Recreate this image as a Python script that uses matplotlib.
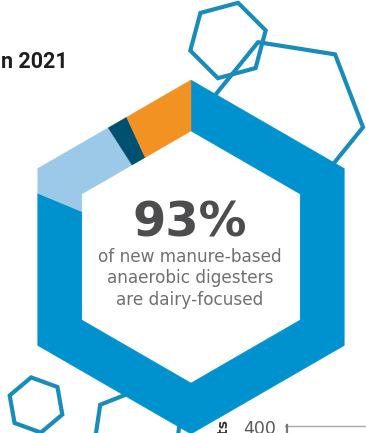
import numpy as np
import matplotlib
matplotlib.use("Agg")
import matplotlib.pyplot as plt
from matplotlib.patches import Polygon

# share of new manure-based digesters (perimeter of the hexagon ring)
categories = ["Dairy", "Dairy co-digestion", "Dairy + other", "Other livestock"]
shares = [81, 10, 2, 7]
colors = ["#0092cf", "#9dc9e9", "#00506f", "#f29222"]

headline = "93%"
caption = ["of new manure-based", "anaerobic digesters", "are dairy-focused"]
title = "n 2021"
axis_label = "Projects"
tick_label = "400"

W, H = 366, 433
fig = plt.figure(figsize=(W / 100, H / 100), dpi=100)
ax = fig.add_axes([0, 0, 1, 1])
ax.set_xlim(0, W)
ax.set_ylim(H, 0)
ax.axis("off")

# ring geometry (pixel space, y down)
cx, cy = 191, 257
r_out, r_in = 177, 126


def hex_vertices(x, y, r, a0):
    a = np.deg2rad(a0 - 60 * np.arange(7))
    return x + r * np.cos(a), y - r * np.sin(a)


def hex_point(f, r):
    # point at fraction f of the perimeter, clockwise from the top vertex
    vx, vy = hex_vertices(cx, cy, r, 90)
    s = f * 6
    i = min(int(s), 5)
    t = s - i
    return vx[i] + t * (vx[i + 1] - vx[i]), vy[i] + t * (vy[i + 1] - vy[i])


def ring_segment(f0, f1):
    fs = [f0] + [k / 6 for k in range(1, 6) if f0 < k / 6 < f1] + [f1]
    outer = [hex_point(f, r_out) for f in fs]
    inner = [hex_point(f, r_in) for f in fs[::-1]]
    return outer + inner


# decorative outline hexagons behind the ring
deco = [(228, 40.5, 39, 75), (286, 115, 78, 111), (36, 405, 28, 40), (137, 434, 47, 21.5)]
for x, y, r, a0 in deco:
    vx, vy = hex_vertices(x, y, r, a0)
    ax.add_patch(Polygon(np.column_stack([vx, vy]), closed=True, fill=False,
                         ec="#1a8cba", lw=3, joinstyle="miter", zorder=1))

# white centre hides the outlines
vx, vy = hex_vertices(cx, cy, r_in, 90)
ax.add_patch(Polygon(np.column_stack([vx, vy]), closed=True, fc="white",
                     ec="white", lw=1, zorder=2))

total = sum(shares)
cum = np.concatenate([[0], np.cumsum(shares)]) / total
for i, c in enumerate(colors):
    ax.add_patch(Polygon(ring_segment(cum[i], cum[i + 1]), closed=True,
                         fc=c, ec=c, lw=0.3, zorder=3))

# centre text
ax.text(cx - 1, 236.5, headline, ha="center", va="baseline", fontsize=34.5,
        fontweight="bold", color="#4d4d4f", zorder=5)
for k, line in enumerate(caption):
    ax.text(cx - 1, 262 + 21.3 * k, line, ha="center", va="baseline",
            fontsize=12.2, color="#707072", zorder=5)

# cut-off title
ax.text(68, 68, title, ha="right", va="baseline", fontsize=15.5,
        family="Roboto", fontweight="bold", color="#1e1e1e")

# top of the next chart
ax.plot([285, W], [425.5, 425.5], color="#a8a8a8", lw=1, zorder=2)
ax.plot([286.5, 286.5], [425, H], color="#777777", lw=1.6, zorder=2)
ax.text(276, 434, tick_label, ha="right", va="baseline", fontsize=12.5,
        color="#5b5b5b")
ax.text(223, 418, axis_label, rotation=90, ha="center", va="top",
        fontsize=10, fontweight="bold", color="#333333")

fig.savefig("out.png", dpi=100)
